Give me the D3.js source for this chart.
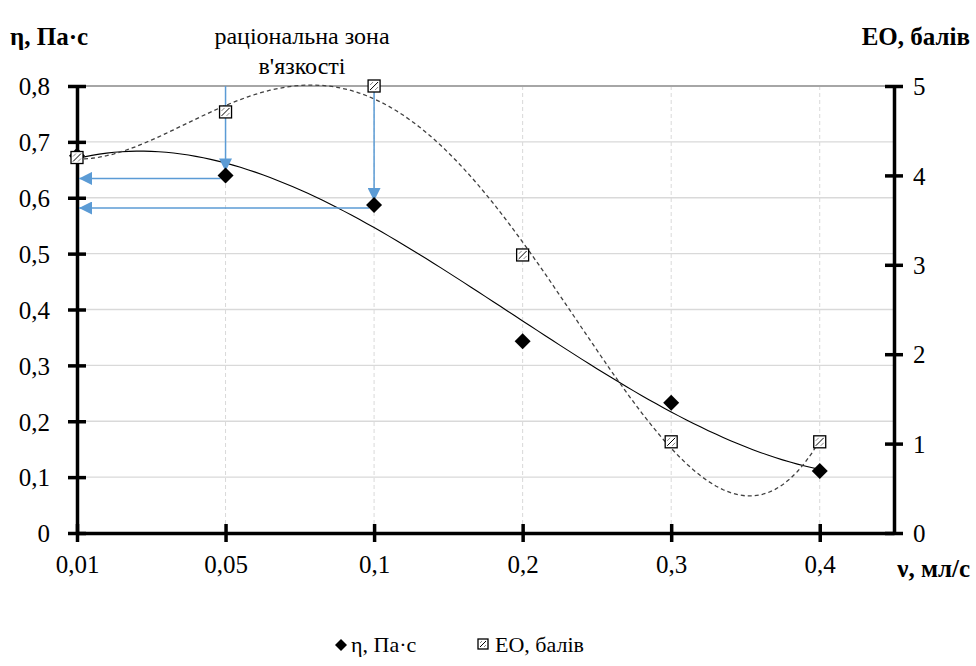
<!DOCTYPE html>
<html>
<meta charset="utf-8">
<script src="https://d3js.org/d3.v7.min.js"></script>
<body style="margin:0">
<script>
  var categories = ["0,01", "0,05", "0,1", "0,2", "0,3", "0,4"];
  var etaValues = [0.675, 0.64, 0.587, 0.343, 0.233, 0.111];
  var eoValues = [4.2, 4.71, 5.0, 3.11, 1.02, 1.02];
  var leftTicks = [0, 0.1, 0.2, 0.3, 0.4, 0.5, 0.6, 0.7, 0.8];
  var rightTicks = [0, 1, 2, 3, 4, 5];
  var arrowCats = [1, 2]; // 0,05 and 0,1

  var width = 976, height = 666;
  var padL = 77, padR = 894, padT = 86, padB = 533;

  var svg = d3.select("body").append("svg").attr("width", width).attr("height", height)
    .attr("font-family", "Liberation Serif");

  var defs = svg.append("defs");
  defs.append("marker").attr("id", "arr")
    .attr("viewBox", "0 0 10 10").attr("refX", 10).attr("refY", 5)
    .attr("markerWidth", 13).attr("markerHeight", 13).attr("markerUnits", "userSpaceOnUse")
    .attr("orient", "auto")
    .append("path").attr("d", "M0,0 L10,5 L0,10 Z").attr("fill", "#5b9bd5");

  var x = d3.scaleLinear().domain([0, 5.5]).range([padL, padR]);
  var y = d3.scaleLinear().domain([0, 0.8]).range([padB, padT]);
  var y2 = d3.scaleLinear().domain([0, 5]).range([padB, padT]);

  // grid
  svg.append("g").selectAll("line").data(leftTicks.slice(1, -1)).enter().append("line")
    .attr("x1", padL).attr("x2", padR)
    .attr("y1", function(d) { return y(d); }).attr("y2", function(d) { return y(d); })
    .attr("stroke", "#d9d9d9").attr("stroke-width", 1.3);
  svg.append("g").selectAll("line").data(categories.slice(1)).enter().append("line")
    .attr("x1", function(d, i) { return x(i + 1); }).attr("x2", function(d, i) { return x(i + 1); })
    .attr("y1", padT).attr("y2", padB)
    .attr("stroke", "#d9d9d9").attr("stroke-width", 1).attr("stroke-dasharray", "4,3");
  svg.append("line").attr("x1", padL).attr("x2", padR).attr("y1", y(0.8)).attr("y2", y(0.8))
    .attr("stroke", "#a6a6a6").attr("stroke-width", 2.2);

  // polynomial trend line (least squares, x = 1..n as in a spreadsheet)
  function polyfit(vals, order) {
    var n = order + 1, A = [], b = [];
    for (var r = 0; r < n; r++) {
      A.push([]); b.push(0);
      for (var c = 0; c < n; c++) A[r].push(0);
    }
    vals.forEach(function(v, i) {
      var xi = i + 1;
      for (var r = 0; r < n; r++) {
        b[r] += v * Math.pow(xi, r);
        for (var c = 0; c < n; c++) A[r][c] += Math.pow(xi, r + c);
      }
    });
    for (var k = 0; k < n; k++) {
      var p = k;
      for (var r = k + 1; r < n; r++) if (Math.abs(A[r][k]) > Math.abs(A[p][k])) p = r;
      var t = A[k]; A[k] = A[p]; A[p] = t; var tb = b[k]; b[k] = b[p]; b[p] = tb;
      for (var r = k + 1; r < n; r++) {
        var f = A[r][k] / A[k][k];
        for (var c = k; c < n; c++) A[r][c] -= f * A[k][c];
        b[r] -= f * b[k];
      }
    }
    var coef = new Array(n);
    for (var k = n - 1; k >= 0; k--) {
      var s = b[k];
      for (var c = k + 1; c < n; c++) s -= A[k][c] * coef[c];
      coef[k] = s / A[k][k];
    }
    return function(xi) {
      return coef.reduce(function(acc, cf, j) { return acc + cf * Math.pow(xi, j); }, 0);
    };
  }
  var etaFit = polyfit(etaValues, 3);
  var eoFit = polyfit(eoValues, 4);
  var steps = d3.range(0, 5.001, 0.05);
  var line = d3.line();

  svg.append("path")
    .attr("d", line(steps.map(function(t) { return [x(t), y(etaFit(t + 1))]; })))
    .attr("fill", "none").attr("stroke", "#000").attr("stroke-width", 1.1);
  svg.append("path")
    .attr("d", line(steps.map(function(t) { return [x(t), y2(eoFit(t + 1))]; })))
    .attr("fill", "none").attr("stroke", "#404040").attr("stroke-width", 1.3)
    .attr("stroke-dasharray", "4,3");

  // axes
  var axisL = d3.axisLeft(y).tickValues(leftTicks).tickSize(0)
    .tickFormat(function(d) { return d === 0 ? "0" : d3.format(".1f")(d).replace(".", ","); });
  var gL = svg.append("g").attr("transform", "translate(" + padL + ",0)").call(axisL);
  var axisR = d3.axisRight(y2).tickValues(rightTicks).tickSize(0).tickFormat(d3.format("d"));
  var gR = svg.append("g").attr("transform", "translate(" + padR + ",0)").call(axisR);
  var axisB = d3.axisBottom(x).tickValues(d3.range(6)).tickSize(0)
    .tickFormat(function(d) { return categories[d]; });
  var gB = svg.append("g").attr("transform", "translate(0," + padB + ")").call(axisB);
  [gL, gR, gB].forEach(function(g) {
    g.attr("font-family", "Liberation Serif").attr("font-size", 25);
    g.select(".domain").attr("stroke", "#000").attr("stroke-width", 3.5);
    g.selectAll("text").attr("font-family", "Liberation Serif").attr("fill", "#000");
  });
  gL.selectAll("text").attr("x", -27).attr("dy", "0.35em");
  gR.selectAll("text").attr("x", 19).attr("dy", "0.35em");
  gB.selectAll("text").attr("y", 31).attr("dy", "0.35em");
  // crossing tick marks
  gL.selectAll(".tick").append("line").attr("x1", -9).attr("x2", 9).attr("stroke", "#000").attr("stroke-width", 3.5);
  gR.selectAll(".tick").append("line").attr("x1", -9).attr("x2", 9).attr("stroke", "#000").attr("stroke-width", 3.5);
  gB.selectAll(".tick").append("line").attr("y1", -9).attr("y2", 9).attr("stroke", "#000").attr("stroke-width", 3.5);

  // arrows marking the rational viscosity zone
  arrowCats.forEach(function(i) {
    var cx = x(i), cy = y(etaValues[i]);
    svg.append("line").attr("x1", cx).attr("x2", cx).attr("y1", padT).attr("y2", cy - 4)
      .attr("stroke", "#5b9bd5").attr("stroke-width", 1.5).attr("marker-end", "url(#arr)");
    svg.append("line").attr("x1", cx - 5).attr("x2", padL + 2).attr("y1", cy + 3).attr("y2", cy + 3)
      .attr("stroke", "#5b9bd5").attr("stroke-width", 1.5).attr("marker-end", "url(#arr)");
  });

  // markers
  function diamond(g, cx, cy, s) {
    g.append("path").attr("d", "M" + cx + "," + (cy - s) + "L" + (cx + s) + "," + cy + "L" + cx + "," + (cy + s) + "L" + (cx - s) + "," + cy + "Z")
      .attr("fill", "#000");
  }
  function hatchSquare(g, cx, cy, s) {
    g.append("rect").attr("x", cx - s).attr("y", cy - s).attr("width", 2 * s).attr("height", 2 * s)
      .attr("fill", "#fff").attr("stroke", "#000").attr("stroke-width", 1.3);
    g.append("line").attr("x1", cx - s + 2).attr("y1", cy + s - 2).attr("x2", cx + s - 2).attr("y2", cy - s + 2)
      .attr("stroke", "#000").attr("stroke-width", 1);
    g.append("path").attr("d", "M" + (cx - s + 2) + "," + (cy - 1) + "L" + (cx - 1) + "," + (cy - s + 2))
      .attr("stroke", "#666").attr("stroke-width", 0.8);
    g.append("path").attr("d", "M" + (cx + 1) + "," + (cy + s - 2) + "L" + (cx + s - 2) + "," + (cy + 1))
      .attr("stroke", "#666").attr("stroke-width", 0.8);
  }
  var gm = svg.append("g");
  etaValues.forEach(function(v, i) { diamond(gm, x(i), y(v), 8); });
  eoValues.forEach(function(v, i) { hatchSquare(gm, x(i), y2(v), 6); });

  // titles
  function label(px, py, txt, size, bold, anchor) {
    return svg.append("text").attr("x", px).attr("y", py)
      .attr("text-anchor", anchor || "start").attr("fill", "#000")
      .attr("font-family", "Liberation Serif").attr("font-size", size)
      .attr("font-weight", bold ? "bold" : "normal").text(txt);
  }
  label(10, 45, "η, Па·с", 25, true);
  label(970, 45, "ЕО, балів", 25, true, "end");
  label(970, 577, "ν, мл/с", 25, true, "end");
  label(302, 44, "раціональна зона", 24, false, "middle");
  label(302, 74, "в'язкості", 24, false, "middle");

  // legend
  diamond(svg, 341, 645, 6);
  label(351, 652, "η, Па·с", 22, false);
  hatchSquare(svg, 483, 644, 5);
  label(495, 652, "ЕО, балів", 22, false);
</script>
</body>
</html>
